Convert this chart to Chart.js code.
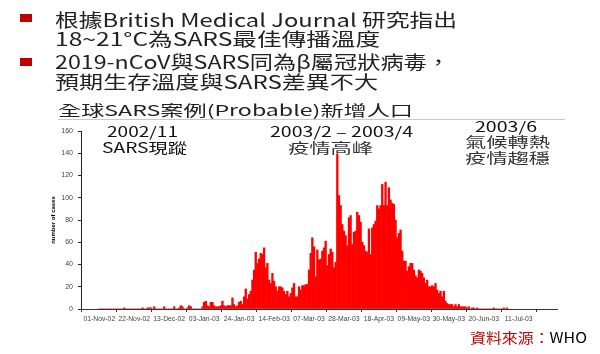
<!DOCTYPE html>
<html lang="zh-TW">
<head>
<meta charset="utf-8">
<script src="https://cdn.jsdelivr.net/npm/chart.js@4.4.1/dist/chart.umd.min.js"></script>
<style>
  html, body { margin: 0; padding: 0; background: #fff; }
  #wrap { position: relative; width: 600px; height: 354px; overflow: hidden; background: #fff; }
  #c { position: absolute; left: 0; top: 0; }
  .t { position: absolute; white-space: nowrap; line-height: 1; font-family: "Noto Sans CJK TC", "Noto Sans", sans-serif; transform-origin: 0 0; }
  .sq { position: absolute; background: #c00000; width: 12px; height: 8px; }
  #rule { position: absolute; left: 58px; top: 119px; width: 507px; height: 1px; background: #c8c8c8; }
</style>
</head>
<body>
<div id="wrap">
  <canvas id="c" width="600" height="354"></canvas>
  <div class="sq" style="left:20px;top:14px"></div>
  <div class="sq" style="left:20px;top:58px"></div>
  <div class="t" data-x="55" data-b="27" data-w="402" style="font-size:18px;color:#222">根據British Medical Journal 研究指出</div>
  <div class="t" data-x="55" data-b="46" data-w="325" style="font-size:18px;color:#222">18~21°C為SARS最佳傳播溫度</div>
  <div class="t" data-x="55" data-b="69" data-w="395" style="font-size:18px;color:#222">2019-nCoV與SARS同為β屬冠狀病毒，</div>
  <div class="t" data-x="55" data-b="89" data-w="323" style="font-size:18px;color:#222">預期生存溫度與SARS差異不大</div>
  <div class="t" data-x="58" data-b="116" data-w="355" style="font-size:15px;color:#222">全球SARS案例(Probable)新增人口</div>
  <div id="rule"></div>
  <div class="t" data-x="107" data-b="137" data-w="71" style="font-size:14px;color:#111">2002/11</div>
  <div class="t" data-x="102" data-b="153" data-w="85" style="font-size:14px;color:#111">SARS現蹤</div>
  <div class="t" data-x="270" data-b="137" data-w="143" style="font-size:14px;color:#111">2003/2 – 2003/4</div>
  <div class="t" data-x="288" data-b="153" data-w="85" style="font-size:14px;color:#333">疫情高峰</div>
  <div class="t" data-x="475" data-b="132" data-w="62" style="font-size:14px;color:#111">2003/6</div>
  <div class="t" data-x="465" data-b="147" data-w="85" style="font-size:14px;color:#333">氣候轉熱</div>
  <div class="t" data-x="465" data-b="163" data-w="85" style="font-size:14px;color:#333">疫情趨穩</div>
  <div class="t" data-x="470" data-b="343" data-w="117" style="font-size:14px;color:#000"><span style="color:#c00000">資料來源：</span>WHO</div>
</div>
<script>
// ---- data (daily new probable SARS cases, starting 01-Nov-02) ----
const startLabel = '01-Nov-02';
const tickStepDays = 21;
const tickLabels = ['01-Nov-02','22-Nov-02','13-Dec-02','03-Jan-03','24-Jan-03','14-Feb-03','07-Mar-03','28-Mar-03','18-Apr-03','09-May-03','30-May-03','20-Jun-03','11-Jul-03'];
const axisDays = 264;
const yMax = 160;
const yStep = 20;
const dailyCases = [
  0,0,0,0,0,0,0,0,0,0,
  0,0,0,0,0,1,0,0,0,0,
  0,0,0,0,0,0,1,0,0,1,
  1,1,0,2,0,0,0,0,0,2,
  0,0,0,0,0,2,0,0,1,3,
  2,0,0,1,3,2,0,0,0,0,
  0,0,2,6,7,3,2,6,6,3,
  2,2,2,3,7,3,2,3,3,3,
  10,4,2,3,6,7,4,11,18,9,
  13,16,26,35,51,41,45,50,49,55,
  37,41,26,23,32,25,20,16,20,20,
  19,16,13,16,11,14,19,23,11,11,
  20,17,21,21,22,22,35,50,64,56,
  29,53,44,45,52,55,61,39,49,54,
  51,37,42,139,102,93,76,70,66,57,
  82,84,58,69,70,87,84,78,60,57,
  52,51,72,49,73,76,79,93,90,93,
  112,93,114,93,109,98,95,94,80,64,
  68,71,52,43,43,34,38,41,41,35,
  30,28,35,34,32,28,23,26,20,20,
  21,20,23,17,14,16,11,16,7,5,
  4,4,4,2,4,2,4,2,2,2,
  2,1,2,0,1,1,0,1,0,0,
  0,0,0,0,0,0,0,1,0,0,
  0,0,0,1,0,1
];

const points = dailyCases.map((v, i) => ({ x: i, y: v }));

new Chart(document.getElementById('c'), {
  type: 'bar',
  data: {
    datasets: [{
      label: 'number of cases',
      data: points,
      backgroundColor: '#ff0000',
      borderWidth: 0,
      barPercentage: 1,
      categoryPercentage: 1
    }]
  },
  options: {
    responsive: false,
    animation: false,
    devicePixelRatio: 1,
    layout: { padding: { left: 50, top: 131, right: 43, bottom: 0 } },
    plugins: { legend: { display: false }, tooltip: { enabled: false }, title: { display: false } },
    scales: {
      x: {
        type: 'linear',
        min: 0,
        max: axisDays,
        afterFit: s => { s.height = 45; },
        afterBuildTicks: s => { s.ticks = s.ticks.filter(t => t.value % tickStepDays === 0 && t.value / tickStepDays < tickLabels.length); },
        ticks: {
          stepSize: tickStepDays,
          autoSkip: false,
          maxRotation: 0,
          minRotation: 0,
          padding: 3,
          color: '#444',
          font: { family: 'Liberation Sans', size: 6.8 },
          callback: v => tickLabels[Math.round(v / tickStepDays)] ?? ''
        },
        grid: { display: true, drawOnChartArea: false, drawTicks: true, tickLength: 3, color: '#333' },
        border: { display: true, color: '#333', width: 1 }
      },
      y: {
        min: 0,
        max: yMax,
        afterFit: s => { s.width = 31; },
        ticks: {
          stepSize: yStep,
          padding: 5,
          color: '#444',
          font: { family: 'Liberation Sans', size: 7 }
        },
        title: {
          display: true,
          text: 'number of cases',
          color: '#000',
          padding: 0,
          font: { family: 'Liberation Sans', size: 6, weight: 'bold' }
        },
        grid: { display: true, drawOnChartArea: false, drawTicks: true, tickLength: 3, color: '#222' },
        border: { display: true, color: '#222', width: 1 }
      }
    }
  }
});

function placeTexts() {
  document.querySelectorAll('.t').forEach(el => {
    const m = document.createElement('span');
    m.style.cssText = 'display:inline-block;width:0;height:0;vertical-align:baseline;';
    el.appendChild(m);
    const base = m.offsetTop;
    const w = el.getBoundingClientRect().width;
    const tw = parseFloat(el.dataset.w);
    el.style.left = el.dataset.x + 'px';
    el.style.top = (parseFloat(el.dataset.b) - base) + 'px';
    el.style.transform = 'scaleX(' + (tw / w) + ')';
  });
}
if (document.fonts && document.fonts.ready) { document.fonts.ready.then(placeTexts); } else { placeTexts(); }
</script>
</body>
</html>
